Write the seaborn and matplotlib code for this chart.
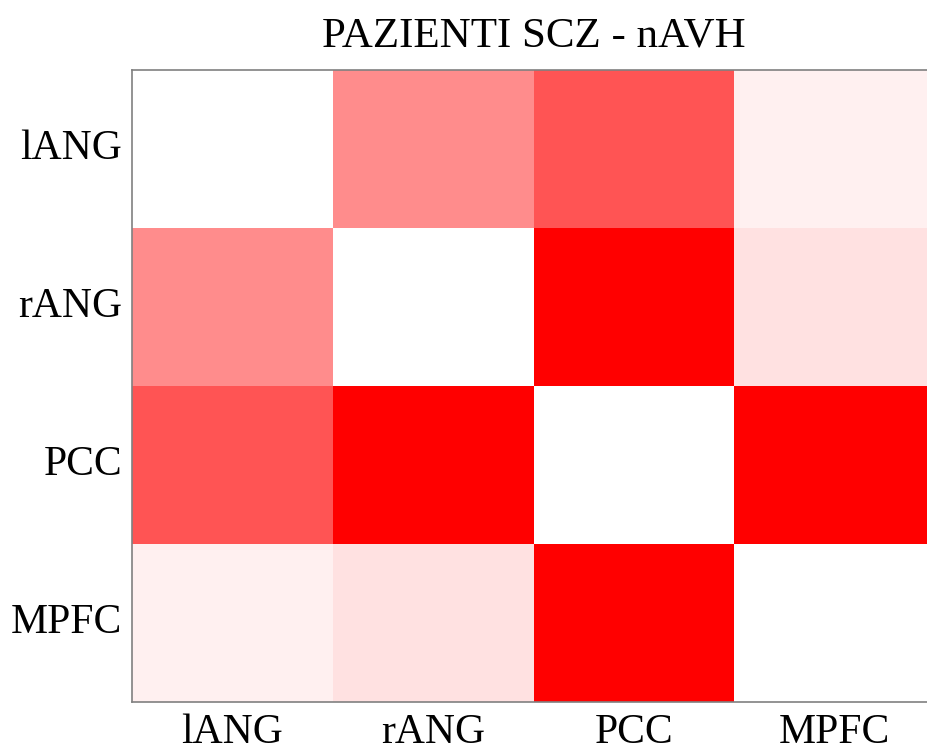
import matplotlib
matplotlib.use("Agg")
import matplotlib.pyplot as plt
import seaborn as sns
import numpy as np
import pandas as pd
from matplotlib.colors import LinearSegmentedColormap

regions = ["lANG", "rANG", "PCC", "MPFC"]
row_lang = [0.00, 0.45, 0.67, 0.06]
row_rang = [0.45, 0.00, 1.00, 0.12]
row_pcc = [0.67, 1.00, 0.00, 1.00]
row_mpfc = [0.06, 0.12, 1.00, 0.00]

df = pd.DataFrame([row_lang, row_rang, row_pcc, row_mpfc], index=regions, columns=regions)

sns.set_style("white")
plt.rcParams['font.family'] = ['Liberation Serif', 'DejaVu Serif']
plt.rcParams['text.color'] = 'black'
plt.rcParams['xtick.color'] = 'black'
plt.rcParams['ytick.color'] = 'black'

cmap = LinearSegmentedColormap.from_list("wr", ["#ffffff", "#ff0000"])

fig = plt.figure(figsize=(9.27, 7.53), dpi=100)
ax = fig.add_axes([132 / 927, 1 - 702 / 753, 803 / 927, 632 / 753])

sns.heatmap(df, ax=ax, cmap=cmap, vmin=0, vmax=1, cbar=False)

for side in ["top", "bottom", "left", "right"]:
    ax.spines[side].set_visible(True)
    ax.spines[side].set_color("#808080")
    ax.spines[side].set_linewidth(1.2)

ax.tick_params(axis="both", length=0, labelsize=30, labelcolor="black")
ax.tick_params(axis="x", pad=8)
ax.tick_params(axis="y", pad=7)
plt.setp(ax.get_yticklabels(), rotation=0)
ax.set_xlabel("")
ax.set_ylabel("")
ax.set_title("PAZIENTI SCZ - nAVH", fontsize=31, pad=17, color="black")

plt.savefig("out.png", dpi=100)
